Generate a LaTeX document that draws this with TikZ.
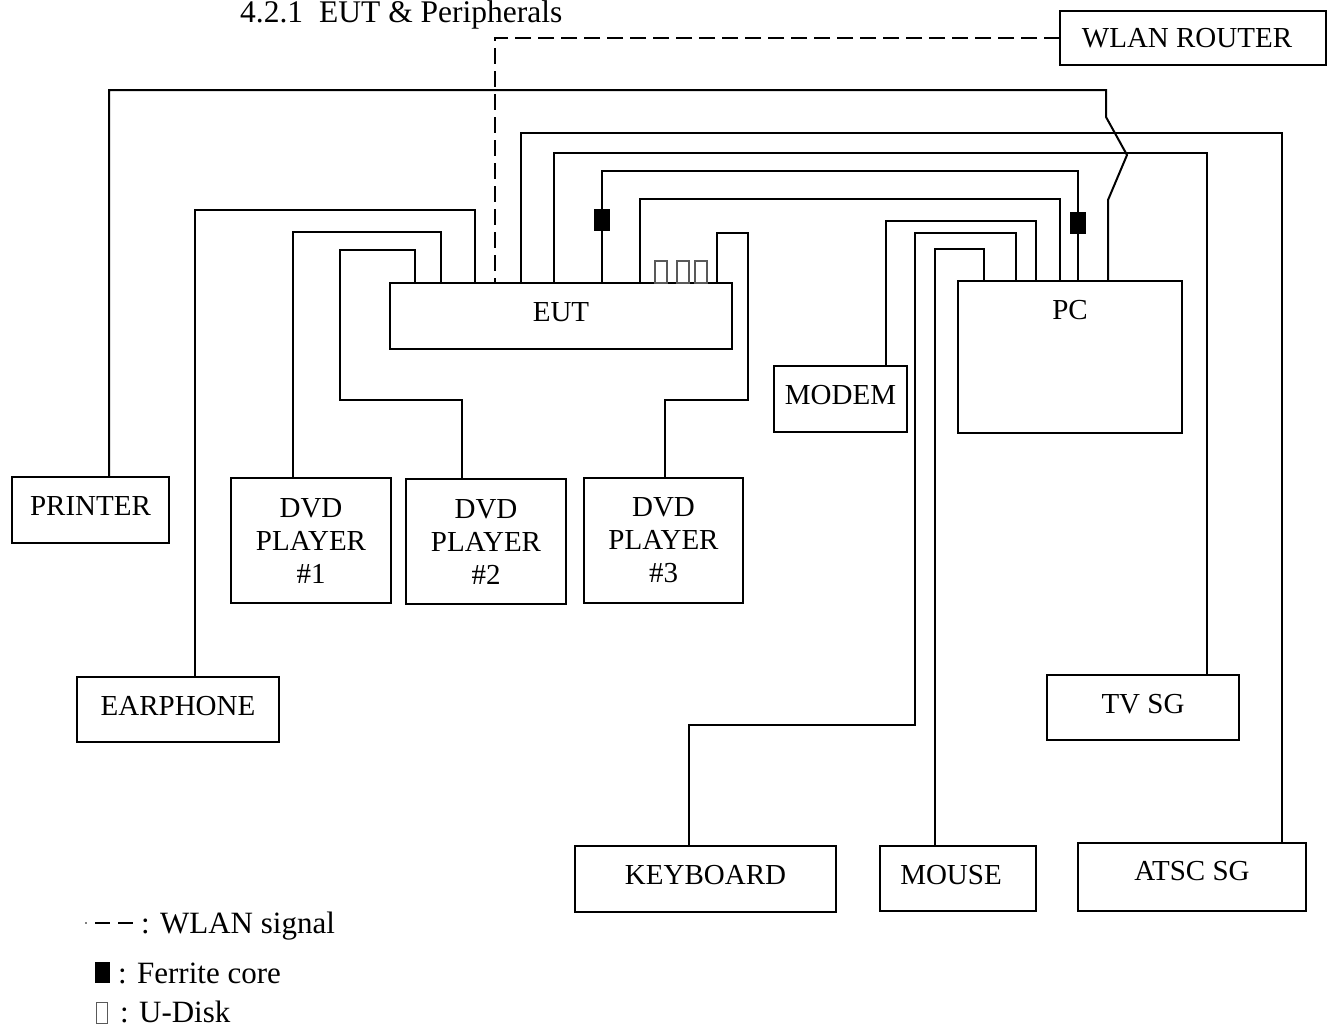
\documentclass[tikz,border=0pt]{standalone}
\usepackage{fontspec}
\setmainfont{Liberation Serif}
\begin{document}
\begin{tikzpicture}[
  x=1pt,y=-1pt,
  font=\fontsize{29}{33}\selectfont,
  ebox/.style={draw=black,line width=2pt,inner sep=0pt,outer sep=0pt,align=center},
  lbox/.style={ebox,text depth=8pt},
  wire/.style={draw=black,line width=2pt},
  wlan/.style={draw=black,line width=2pt,dash pattern=on 16pt off 7pt},
  ferrite/.style={fill=black,draw=black,line width=0.5pt,inner sep=0pt,outer sep=0pt,minimum width=15pt,minimum height=21pt},
  udisk/.style={draw=black!65,fill=white,line width=1.3pt,inner sep=0pt,outer sep=0pt,minimum width=12pt,minimum height=22pt},
  txt/.style={inner sep=0pt,anchor=base west},
  legtxt/.style={txt,font=\fontsize{31}{33}\selectfont}
]
\useasboundingbox (0,0) rectangle (1332,1025);
\node[txt,font=\fontsize{31.5}{34}\selectfont] (title) at (240,23) {4.2.1\hspace{16pt}EUT \& Peripherals};
\node[ebox,minimum width=266pt,minimum height=54pt] (router) at (1193,38) {WLAN ROUTER\hspace{12pt}};
\node[lbox,minimum width=342pt,minimum height=66pt] (eut) at (561,316) {EUT};
\node[ebox,minimum width=224pt,text height=38pt,text depth=114pt] (pc) at (1070,357) {PC};
\node[lbox,minimum width=133pt,minimum height=66pt] (modem) at (840.5,399) {MODEM};
\node[lbox,minimum width=157pt,minimum height=66pt] (printer) at (90.5,510) {PRINTER};
\node[ebox,minimum width=160pt,minimum height=125pt] (dvd1) at (311,540.5) {DVD\\PLAYER\\\#1};
\node[ebox,minimum width=160pt,minimum height=125pt] (dvd2) at (486,541.5) {DVD\\PLAYER\\\#2};
\node[ebox,minimum width=159pt,minimum height=125pt] (dvd3) at (663.5,540.5) {DVD\\PLAYER\\\#3};
\node[lbox,minimum width=202pt,minimum height=65pt] (earphone) at (178,709.5) {EARPHONE};
\node[lbox,minimum width=192pt,minimum height=65pt] (tvsg) at (1143,707.5) {TV SG};
\node[lbox,minimum width=261pt,minimum height=66pt] (keyboard) at (705.5,879) {KEYBOARD};
\node[lbox,minimum width=156pt,minimum height=65pt] (mouse) at (958,878.5) {MOUSE\hspace{14pt}};
\node[ebox,text depth=12pt,minimum width=228pt,minimum height=68pt] (atsc) at (1192,877) {ATSC SG};
\node[ferrite] (fc1) at (602,220) {};
\node[ferrite] (fc2) at (1078,222.5) {};
\node[udisk] (ud1) at (661,272) {};
\node[udisk] (ud2) at (683,272) {};
\node[udisk] (ud3) at (701,272) {};
\draw[wlan] (router.west) -- (495,38) -- (495,0 |- eut.north);
\draw[wire] (109,0 |- printer.north) -- (109,90) -- (1106,90) -- (1106,117) -- (1127,155) -- (1108,200) -- (1108,0 |- pc.north);
\draw[wire] (1282,0 |- atsc.north) -- (1282,133) -- (521,133) -- (521,0 |- eut.north);
\draw[wire] (1207,0 |- tvsg.north) -- (1207,153) -- (554,153) -- (554,0 |- eut.north);
\draw[wire] (602,0 |- eut.north) -- (fc1) -- (602,171) -- (1078,171) -- (fc2) -- (1078,0 |- pc.north);
\draw[wire] (640,0 |- eut.north) -- (640,199) -- (1060,199) -- (1060,0 |- pc.north);
\draw[wire] (665,0 |- dvd3.north) -- (665,400) -- (748,400) -- (748,233) -- (717,233) -- (717,0 |- eut.north);
\draw[wire] (195,0 |- earphone.north) -- (195,210) -- (475,210) -- (475,0 |- eut.north);
\draw[wire] (293,0 |- dvd1.north) -- (293,232) -- (441,232) -- (441,0 |- eut.north);
\draw[wire] (462,0 |- dvd2.north) -- (462,400) -- (340,400) -- (340,250) -- (415,250) -- (415,0 |- eut.north);
\draw[wire] (886,0 |- modem.north) -- (886,221) -- (1036,221) -- (1036,0 |- pc.north);
\draw[wire] (689,0 |- keyboard.north) -- (689,725) -- (915,725) -- (915,233) -- (1016,233) -- (1016,0 |- pc.north);
\draw[wire] (935,0 |- mouse.north) -- (935,249) -- (984,249) -- (984,0 |- pc.north);
\coordinate (dashA) at (95,923); \coordinate (dashB) at (133,923);
\fill (86,923) circle (0.9pt);
\draw[line width=2pt,dash pattern=on 15pt off 8pt] (dashA) -- (dashB);
\node[legtxt] (lwlan) at (141,933) {: WLAN signal};
\node[fill=black,inner sep=0pt,minimum width=15pt,minimum height=21pt] (kferrite) at (102.5,972.5) {};
\node[legtxt] (lferrite) at (118,983) {: Ferrite core};
\node[draw=black!65,line width=1.3pt,inner sep=0pt,minimum width=11pt,minimum height=21pt] (kudisk) at (102,1013) {};
\node[legtxt] (ludisk) at (120,1022) {: U-Disk};
\end{tikzpicture}
\end{document}
